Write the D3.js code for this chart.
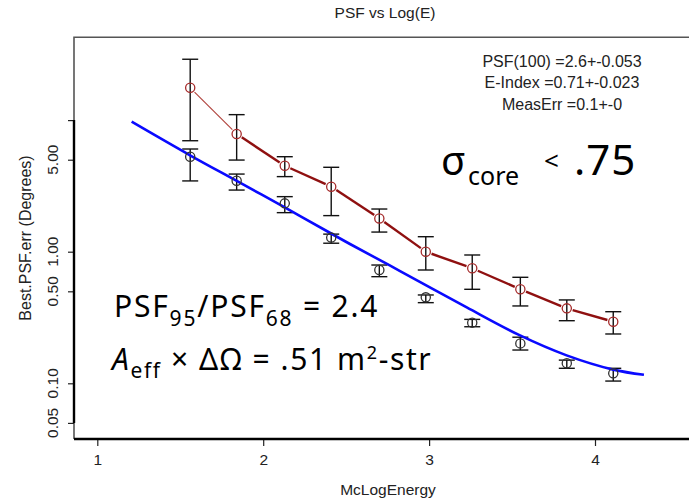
<!DOCTYPE html>
<html>
<head>
<meta charset="utf-8">
<script src="https://cdn.jsdelivr.net/npm/d3@7"></script>
<style>
  html, body { margin: 0; padding: 0; background: #fff; }
  svg { display: block; }
  .axis-text { font-family: "Liberation Sans", Arial, sans-serif; fill: #222; }
  .note { font-family: "Comic Sans MS", "Noto Sans", "DejaVu Sans", sans-serif; fill: #000; }
</style>
</head>
<body>
<svg id="chart" width="689" height="501"></svg>
<script>
// Energy bins (log10 of MC energy)
const energy = [1.56, 1.84, 2.13, 2.41, 2.70, 2.98, 3.26, 3.55, 3.83, 4.11];

// 95% containment PSF (degrees) with error bar limits
const psf95   = [17.6, 7.84, 4.50, 3.12, 1.79, 1.00, 0.748, 0.518, 0.371, 0.294];
const psf95Hi = [29.0, 11.0, 5.27, 4.38, 2.11, 1.30, 0.944, 0.639, 0.430, 0.350];
const psf95Lo = [6.97, 4.97, 3.72, 1.88, 1.41, 0.726, 0.518, 0.387, 0.299, 0.237];

// 68% containment PSF (degrees) with error bar limits
const psf68   = [5.27, 3.46, 2.33, 1.28, 0.726, 0.450, 0.289, 0.201, 0.142, 0.119];
const psf68Hi = [6.03, 3.89, 2.62, 1.36, 0.792, 0.469, 0.306, 0.224, 0.150, 0.130];
const psf68Lo = [3.45, 2.94, 1.98, 1.16, 0.646, 0.410, 0.269, 0.179, 0.130, 0.104];

// Fitted PSF model curve
const fitEnergy = [1.207, 1.559, 1.846, 2.130, 2.415, 2.523, 2.825, 3.227, 3.548, 3.829, 4.110, 4.295];
const fitPsf    = [9.72, 5.40, 3.42, 2.17, 1.363, 1.144, 0.713, 0.377, 0.231, 0.163, 0.127, 0.116];

// Axis ticks
const xTicks = [1, 2, 3, 4];
const yTicks = [0.05, 0.10, 0.50, 1.00, 5.00, 10.0];
const yTickLabels = ["0.05", "0.10", "0.50", "1.00", "5.00", ""];

// Fit summary
const fitNotes = ["PSF(100) =2.6+-0.053", "E-Index =0.71+-0.023", "MeasErr =0.1+-0"];

const svg = d3.select("#chart");
const W = 689, H = 501;
const box = { left: 74, top: 37.3, bottom: 439 };

const x = d3.scaleLinear().domain([1, 4]).range([97.3, 595]);
const y = d3.scaleLog().domain([0.1, 1]).range([383.3, 251.7]);

// Title
svg.append("text").attr("class", "axis-text")
  .attr("x", 385).attr("y", 18).attr("text-anchor", "middle")
  .attr("font-size", 15.5).text("PSF vs Log(E)");

// Plot frame (top and left)
svg.append("path")
  .attr("d", `M${box.left},${box.bottom} V${box.top} H${W + 5}`)
  .attr("fill", "none").attr("stroke", "#555").attr("stroke-width", 1.6);

// X axis
const xAxis = d3.axisBottom(x).tickValues(xTicks).tickSize(7).tickPadding(8)
  .tickFormat(d3.format("d"));
const gx = svg.append("g").attr("transform", `translate(0,${box.bottom})`).call(xAxis);
gx.select(".domain").remove();
gx.append("line").attr("x1", box.left).attr("x2", W + 5).attr("y1", 0).attr("y2", 0)
  .attr("stroke", "#000").attr("stroke-width", 2.4);
gx.selectAll(".tick line").attr("stroke", "#222").attr("stroke-width", 1.2);
gx.selectAll(".tick text").attr("class", "axis-text").attr("font-size", 15.5)
  .attr("fill", "#222").attr("font-family", "Liberation Sans, Arial, sans-serif");

svg.append("text").attr("class", "axis-text")
  .attr("x", 388).attr("y", 495).attr("text-anchor", "middle")
  .attr("font-size", 15.5).text("McLogEnergy");

// Y axis (log)
const yAxis = d3.axisLeft(y).tickValues(yTicks).tickSize(6).tickFormat("");
const gy = svg.append("g").attr("transform", `translate(${box.left},0)`).call(yAxis);
gy.select(".domain").remove();
gy.append("line").attr("x1", 0).attr("x2", 0)
  .attr("y1", y(d3.max(yTicks))).attr("y2", y(d3.min(yTicks)))
  .attr("stroke", "#000").attr("stroke-width", 2.4);
gy.selectAll(".tick line").attr("stroke", "#222").attr("stroke-width", 1.2);

svg.append("g").selectAll("text").data(yTicks.map((v, i) => [v, yTickLabels[i]]))
  .join("text").attr("class", "axis-text")
  .attr("transform", d => `translate(53,${y(d[0])}) rotate(-90)`)
  .attr("text-anchor", "middle").attr("dy", "0.35em")
  .attr("font-size", 15.5).text(d => d[1]);

svg.append("text").attr("class", "axis-text")
  .attr("transform", "translate(25,238) rotate(-90)")
  .attr("text-anchor", "middle").attr("dy", "0.35em")
  .attr("font-size", 16).text("Best.PSF.err (Degrees)");

// Error bars
const cap = 8;
function errorBars(lo, hi) {
  const g = svg.append("g").attr("stroke", "#111").attr("stroke-width", 1.4).attr("fill", "none");
  energy.forEach((e, i) => {
    const cx = x(e);
    g.append("line").attr("x1", cx).attr("x2", cx).attr("y1", y(hi[i])).attr("y2", y(lo[i]));
    g.append("line").attr("x1", cx - cap).attr("x2", cx + cap).attr("y1", y(hi[i])).attr("y2", y(hi[i]));
    g.append("line").attr("x1", cx - cap).attr("x2", cx + cap).attr("y1", y(lo[i])).attr("y2", y(lo[i]));
  });
}
errorBars(psf95Lo, psf95Hi);
errorBars(psf68Lo, psf68Hi);

// Fit curve
const fitLine = d3.line().x(d => x(d[0])).y(d => y(d[1])).curve(d3.curveCatmullRom.alpha(0.5));
svg.append("path")
  .attr("d", fitLine(fitEnergy.map((e, i) => [e, fitPsf[i]])))
  .attr("fill", "none").attr("stroke", "#0a0aff").attr("stroke-width", 2.6);

// 95% points joined by segments with gaps at the markers
const r = 4.6;
const redG = svg.append("g").attr("fill", "none");
for (let i = 0; i < energy.length - 1; i++) {
  const x1 = x(energy[i]), y1 = y(psf95[i]);
  const x2 = x(energy[i + 1]), y2 = y(psf95[i + 1]);
  const len = Math.hypot(x2 - x1, y2 - y1);
  const ux = (x2 - x1) / len, uy = (y2 - y1) / len;
  const gap = r + 1.5;
  redG.append("line")
    .attr("x1", x1 + ux * gap).attr("y1", y1 + uy * gap)
    .attr("x2", x2 - ux * gap).attr("y2", y2 - uy * gap)
    .attr("stroke", i === 0 ? "#b0403a" : "#8f1010")
    .attr("stroke-width", i === 0 ? 1.1 : 2.4);
}

svg.append("g").selectAll("circle").data(energy).join("circle")
  .attr("cx", d => x(d)).attr("cy", (d, i) => y(psf95[i])).attr("r", r)
  .attr("fill", "none").attr("stroke", "#a52a2a").attr("stroke-width", 1.3);

svg.append("g").selectAll("circle").data(energy).join("circle")
  .attr("cx", d => x(d)).attr("cy", (d, i) => y(psf68[i])).attr("r", r)
  .attr("fill", "none").attr("stroke", "#333").attr("stroke-width", 1.3);

// Fit summary text
svg.append("g").selectAll("text").data(fitNotes).join("text")
  .attr("class", "axis-text").attr("x", 562)
  .attr("y", (d, i) => [67, 88, 110][i]).attr("text-anchor", "middle")
  .attr("font-size", 16).text(d => d);

// Annotations
svg.append("text").attr("class", "note").attr("x", 441).attr("y", 175)
  .attr("font-size", 40).text("σ");
svg.append("text").attr("class", "note").attr("x", 468).attr("y", 185)
  .attr("font-size", 25).text("core");
svg.append("text").attr("class", "note").attr("x", 544).attr("y", 170)
  .attr("font-size", 26).text("<");
svg.append("text").attr("class", "note").attr("x", 574).attr("y", 175)
  .attr("font-size", 42).attr("letter-spacing", 1).text(".75");

const t1 = svg.append("text").attr("class", "note").attr("x", 114).attr("y", 317)
  .attr("font-size", 30).attr("letter-spacing", 1.8);
t1.append("tspan").text("PSF");
t1.append("tspan").attr("font-size", 21).attr("dy", 9).text("95");
t1.append("tspan").attr("dy", -9).text("/PSF");
t1.append("tspan").attr("font-size", 21).attr("dy", 9).text("68");
t1.append("tspan").attr("dy", -9).text(" = 2.4");

const t2 = svg.append("text").attr("class", "note").attr("x", 112).attr("y", 370)
  .attr("font-size", 30).attr("letter-spacing", 1.6);
t2.append("tspan").attr("font-style", "italic").text("A");
t2.append("tspan").attr("font-size", 21).attr("dy", 8).text("eff");
t2.append("tspan").attr("dy", -8).text(" × ΔΩ = .51 m");
t2.append("tspan").attr("font-size", 18).attr("dy", -11).text("2");
t2.append("tspan").attr("dy", 11).text("-str");
</script>
</body>
</html>
